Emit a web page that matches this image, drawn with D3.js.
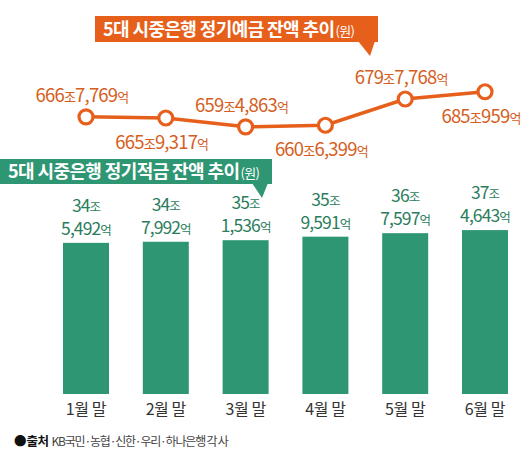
<!DOCTYPE html>
<html><head><meta charset="utf-8">
<script src="https://cdn.jsdelivr.net/npm/d3@7"></script>
<style>
html,body{margin:0;padding:0;background:#fff;}
svg{display:block;font-family:"Noto Sans CJK KR","Noto Sans",sans-serif;}
</style></head>
<body>
<svg id="c" width="530" height="455"></svg>
<script>
const months = ["1월 말","2월 말","3월 말","4월 말","5월 말","6월 말"];
// 정기예금 잔액 (억원)
const depositValues = [6667769, 6659317, 6594863, 6606399, 6797768, 6850959];
const depositLabelPos = ["above","below","above","below","above","below"];
// 정기적금 잔액 (억원)
const savingsValues = [345492, 347992, 351536, 359591, 367597, 374643];
const depositTitle = "5대 시중은행 정기예금 잔액 추이";
const savingsTitle = "5대 시중은행 정기적금 잔액 추이";
const unitText = "(원)";
const sourceBold = "출처";
const sourceText = "KB국민·농협·신한·우리·하나은행 각 사";

const ORANGE = "#e6601c", ORANGE_T = "#d55e22", GREEN = "#2e9672", GREEN_T = "#2b7d5c";
const svg = d3.select("#c");

const x = d3.scalePoint().domain(months).range([86, 485]);
const yBar = d3.scaleLinear().domain([0, 40]).range([394, 219]);
const yLine = d3.scaleLinear().domain([655, 690]).range([133, 85]);

const jo = v => Math.floor(v / 10000);
const eok = v => d3.format(",")(v % 10000);

// ---- bars ----
const barW = 46;
svg.append("g").selectAll("rect").data(savingsValues).join("rect")
  .attr("x", (d,i) => x(months[i]) - barW/2)
  .attr("y", d => yBar(d/10000))
  .attr("width", barW)
  .attr("height", d => yBar(0) - yBar(d/10000))
  .attr("fill", GREEN);

const bl = svg.append("g").attr("fill", GREEN_T).attr("text-anchor","middle");
savingsValues.forEach((d,i) => {
  const cx = x(months[i]), top = yBar(d/10000);
  const t1 = bl.append("text").attr("x", cx).attr("y", top - 31).attr("font-size", 17.5).attr("letter-spacing", -0.9);
  t1.append("tspan").text(jo(d));
  t1.append("tspan").attr("font-size", 12.5).text("조");
  const t2 = bl.append("text").attr("x", cx).attr("y", top - 8).attr("font-size", 17.5).attr("letter-spacing", -0.9);
  t2.append("tspan").text(eok(d));
  t2.append("tspan").attr("font-size", 12.5).text("억");
});

// x axis labels
svg.append("g").selectAll("text").data(months).join("text")
  .attr("x", d => x(d)).attr("y", 415)
  .attr("text-anchor","middle").attr("font-size", 16).attr("fill","#333").attr("letter-spacing",-0.4)
  .text(d => d);

// ---- line ----
const line = d3.line().x((d,i) => x(months[i])).y(d => yLine(d/10000));
svg.append("path").datum(depositValues).attr("d", line)
  .attr("fill","none").attr("stroke", ORANGE).attr("stroke-width", 3.5);
svg.append("g").selectAll("circle").data(depositValues).join("circle")
  .attr("cx", (d,i) => x(months[i])).attr("cy", d => yLine(d/10000))
  .attr("r", 7).attr("fill","#fff").attr("stroke", ORANGE).attr("stroke-width", 3.2);

const ll = svg.append("g").attr("fill", ORANGE_T).attr("text-anchor","middle");
depositValues.forEach((d,i) => {
  const cx = x(months[i]), cy = yLine(d/10000);
  const y = depositLabelPos[i] === "above" ? cy - 15 : cy + 31;
  const t = ll.append("text").attr("x", cx - 4).attr("y", y).attr("font-size", 18.5).attr("letter-spacing", -0.8);
  t.append("tspan").text(jo(d));
  t.append("tspan").attr("font-size", 13).text("조");
  t.append("tspan").text(eok(d));
  t.append("tspan").attr("font-size", 13).text("억");
});

// ---- title boxes ----
function titleBox(x0, y0, w, h, color, tri, title) {
  const g = svg.append("g");
  g.append("rect").attr("x", x0).attr("y", y0).attr("width", w).attr("height", h).attr("fill", color);
  g.append("polygon").attr("points", tri.map(p => p.join(",")).join(" ")).attr("fill", color);
  const t = g.append("text").attr("x", x0 + 8).attr("y", y0 + h/2 + 6.5)
    .attr("fill","#fff").attr("font-size", 18).attr("font-weight", "bold").attr("letter-spacing", -0.6);
  t.append("tspan").text(title);
  t.append("tspan").attr("font-size", 13).attr("font-weight","normal").attr("dx", 1).text(unitText);
}
titleBox(95, 16, 283, 26, ORANGE, [[358,41],[375,41],[370,56]], depositTitle);
titleBox(0, 159, 272, 25, GREEN, [[252,183],[268,183],[262,198]], savingsTitle);

// ---- source ----
const s = svg.append("text").attr("x", 14).attr("y", 446).attr("font-size", 12.5);
s.append("tspan").attr("fill","#111").text("●");
s.append("tspan").attr("fill","#111").attr("font-weight","bold").attr("letter-spacing", -0.5).text(sourceBold);
s.append("tspan").attr("fill","#444").attr("dx", 3).attr("font-size", 12).attr("letter-spacing", -1.2).text(sourceText);
</script>
</body></html>
